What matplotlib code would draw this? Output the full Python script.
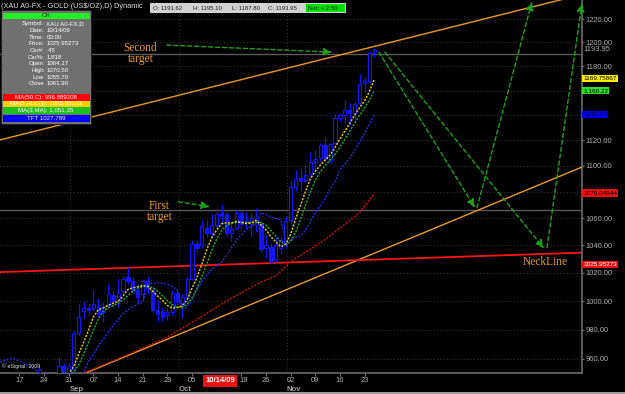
import numpy as np
import pandas as pd
import matplotlib
matplotlib.use('Agg')
import matplotlib.pyplot as plt
import matplotlib.transforms as mtransforms
from matplotlib.patches import Rectangle
from matplotlib.ticker import FixedLocator, NullLocator, FuncFormatter

plt.rcParams['font.family'] = ['Liberation Sans', 'DejaVu Sans']

W, H = 625, 394

# daily bars, bar 0 = Mon Aug 17 2009
bars = list(range(-4, 73))
opens = [944, 946, 947, 941, 938, 937, 941, 944, 945, 949, 945, 942, 948, 955, 949,
         953, 978, 993, 995, 995, 996, 992, 997, 1004, 1001, 1007, 1017, 1014, 1008, 1005,
         1014, 1008, 994, 992, 990, 992, 1006, 998, 1003, 1016, 1041, 1040, 1053, 1049, 1055,
         1064.17, 1063, 1049, 1053, 1064, 1057, 1056, 1055, 1056, 1038, 1039, 1030, 1038, 1041,
         1059, 1084, 1091, 1089, 1094, 1103, 1106, 1116, 1104, 1118, 1138, 1140, 1144, 1142,
         1150, 1166, 1168, 1191.62]
highs = [949, 949.5, 949, 945, 943, 944, 946, 948, 955.5, 950.5, 949, 950, 961, 957, 957,
         979, 998, 999, 998.5, 1008, 1002, 999, 1012, 1008, 1016, 1018, 1024, 1017, 1012, 1016,
         1018, 1011, 1001, 996, 995, 1008, 1008, 1005, 1017, 1044, 1044, 1059, 1059, 1063, 1068,
         1070.50, 1065, 1057, 1066, 1066, 1065, 1064, 1068, 1059, 1048, 1042, 1046, 1047, 1062,
         1089, 1097, 1098, 1101, 1111, 1112, 1118, 1123, 1118, 1141, 1142, 1152, 1150, 1151,
         1174, 1171, 1192.5, 1195.10]
lows = [940, 942, 939, 936, 933, 934, 938, 940, 944, 943, 939, 940, 947, 949, 946,
        951, 976, 988, 990, 993, 989, 985, 995, 996, 996, 1005, 1012, 1006, 999.5, 1001,
        1005, 992, 986, 986, 987, 990, 997, 988, 1000, 1015, 1035, 1038, 1046, 1046, 1053,
        1055.70, 1047, 1043, 1051, 1051, 1052, 1046, 1050, 1035, 1031, 1027, 1028, 1034, 1038,
        1056, 1081, 1081, 1087, 1092, 1097, 1104, 1102, 1102, 1117, 1135, 1134, 1132, 1134,
        1148, 1159, 1166, 1187.80]
closes = [946, 947, 941, 938, 937, 941, 944, 945, 953, 945, 942, 948, 955, 952, 955,
          977, 989, 995, 994, 998, 991, 996, 1005, 1000, 1006, 1016, 1014, 1007, 1003, 1014,
          1009, 994, 991, 989, 992, 1006, 999, 1003, 1016, 1041, 1038, 1054, 1049, 1055, 1063,
          1061.90, 1049, 1052, 1064, 1056, 1058, 1060, 1060, 1037, 1040, 1028, 1040, 1044, 1058,
          1084, 1090, 1088, 1093, 1103, 1105, 1116, 1105, 1117, 1138, 1140, 1144, 1142, 1149,
          1165, 1168, 1191.45, 1193.95]

# TFT line, one value per bar
tft = [958, 959, 960, 960, 958.5, 957, 955, 953, 951, 946, 944, 943, 943, 944, 945,
       946, 948, 950.5, 958.6, 963, 969, 973.5, 978, 983, 987, 991, 993.5, 996, 998, 999,
       1012, 1012.5, 1013, 1012.5, 1012, 1010, 1008, 994, 996, 1001, 1008, 1014, 1019, 1022.5,
       1025.4, 1027.8, 1033, 1038.4, 1044, 1048, 1051.6, 1054, 1056, 1064, 1063, 1061, 1060,
       1059, 1043, 1044, 1046, 1047, 1051, 1058, 1064, 1069.5, 1075, 1081.6, 1088, 1097,
       1101.5, 1106, 1112, 1118.7, 1125.6, 1133, 1140.56]

# MA(50) read at a few bars
ma50_bars = [10, 13, 20, 30, 36, 43, 49, 52, 55, 62, 69, 72]
ma50_vals = [946.4, 950.5, 960, 974.9, 987.2, 1002, 1013.6, 1017.9, 1028.2, 1044.3, 1064.4, 1079.05]

# "12" sits under the cursor date box, so it is not shown
week_bars = [0, 5, 10, 15, 20, 25, 30, 35, 45, 50, 55, 60, 65, 70]
week_labels = ['17', '24', '31', '07', '14', '21', '28', '05', '19', '26', '02', '09', '16', '23']
months = [('Sep', 11), ('Oct', 33), ('Nov', 55)]
month_grid = [10.3, 32.3, 54.3]
cursor_bar = 41

price_ticks = [960, 980, 1000, 1020, 1040, 1060, 1100, 1120, 1180, 1200, 1220]
grid_levels = list(range(960, 1221, 20))

# value boxes on the price axis
axis_boxes = [(1169.75867, '1169.75867', '#ffee00', 'black'),
              (1160.22, '1,160.22', '#33dd33', 'black'),
              (1140.56, '1140.56', '#0000ee', '#000044'),
              (1079.04944, '1079.04944', '#ee1111', 'black'),
              (1025.95273, '1025.95273', '#ee1111', 'white')]

# drawn trend lines (bar, price)
upper_channel = [(-3.96, 1120.3), (114.1, 1241.3)]
lower_channel = [(10.0, 945.8), (114.1, 1099.1)]
neckline = [(-3.96, 1020.6), (114.1, 1034.7)]
target_levels = [1190, 1066]
arrows = [((29.9, 1197.8), (63.4, 1191.9)),
          ((32.2, 1072.5), (38.6, 1068.8)),
          ((72.9, 1191.9), (92.4, 1067.9)),
          ((74.1, 1191.9), (106.4, 1037.7)),
          ((92.8, 1067.9), (103.95, 1235.0)),
          ((107.0, 1038.4), (114.1, 1234.0))]

info_labels = ['Symbol:', 'Date:', 'Time:', 'Price:', 'Csr#:', 'Csr%:', 'Open', 'High', 'Low', 'Close']
info_values = ['XAU A0-FX,D', '10/14/09', '00:00', '1025.95273', '-45', '1.818',
               '1064.17', '1070.50', '1055.70', '1061.90']
info_bands = [('MA(50,C): 996.889208', '#ff0000'), ('MA(5,HLC/3): 1055.85133', '#ffd000'),
              ('MA(3,MA): 1,051.35', '#20c020'), ('TFT 1027.789', '#0000ff')]

BLUE = '#1414ff'
GREEN = '#1ea01e'
ORANGE = '#eb9a2a'
GREY = '#b0b0b0'


def fx(px):
    return px / W


def fy(py):
    return 1 - py / H


def frect(x0, y0, x1, y1, color, ec='none', z=10):
    r = Rectangle((fx(x0), fy(y1)), (x1 - x0) / W, (y1 - y0) / H, transform=fig.transFigure,
                  facecolor=color, edgecolor=ec, lw=0.6, zorder=z)
    fig.add_artist(r)


fig = plt.figure(figsize=(W / 100, H / 100), dpi=100, facecolor='black')
ax = fig.add_axes([0, 21 / H, 582 / W, 373 / H], facecolor='black')
ax.set_yscale('log')
ax.set_xlim(-3.955, 114.1)
ax.set_ylim(950.5, 1236.5)

for p in grid_levels:
    ax.axhline(p, color='#4a4a4a', lw=0.6, ls=(0, (1, 3)), zorder=1)
for g in month_grid:
    ax.axvline(g, color='#4a4a4a', lw=0.6, ls=(0, (1, 3)), zorder=1)

for lv in target_levels:
    ax.axhline(lv, color='#5a5a5a', lw=1.0, zorder=2)

x = np.array(bars)
o = np.array(opens, float)
hi = np.array(highs, float)
lo = np.array(lows, float)
c = np.array(closes, float)
up = c >= o
blo = np.minimum(o, c)
bhi = np.maximum(o, c)
bh = np.maximum(bhi - blo, 0.3)

ax.vlines(x, lo, hi, color=BLUE, lw=0.9, zorder=4)
ax.bar(x[up], bh[up], bottom=blo[up], width=0.64, facecolor='black', edgecolor=BLUE, lw=0.8, zorder=5)
ax.bar(x[~up], bh[~up], bottom=blo[~up], width=0.64, facecolor=BLUE, edgecolor=BLUE, lw=0.8, zorder=5)

hlc3 = pd.Series((hi + lo + c) / 3)
ma5 = hlc3.rolling(5).mean()
ma3 = ma5.rolling(3).mean()

ax.plot(ma50_bars, ma50_vals, color='#c81010', lw=1, ls=(0, (1.5, 1)), zorder=6)
ax.plot(x, tft, color='#2a2ae0', lw=1, ls=(0, (1.5, 1)), zorder=6)
ax.plot(x, ma3, color='#22b022', lw=1, ls=(0, (1.5, 1)), zorder=6)
ax.plot(x, ma5, color='#f0d400', lw=1, ls=(0, (1.5, 1)), zorder=6)

for line in (upper_channel, lower_channel):
    ax.plot([line[0][0], line[1][0]], [line[0][1], line[1][1]], color=ORANGE, lw=1, zorder=3)
ax.plot([neckline[0][0], neckline[1][0]], [neckline[0][1], neckline[1][1]], color='#ff1414', lw=1.3, zorder=3)

for (p0, p1) in arrows:
    ax.annotate('', xy=p1, xytext=p0, annotation_clip=False,
                arrowprops=dict(arrowstyle='-|>,head_length=0.5,head_width=0.22', color=GREEN,
                                lw=1, linestyle=(0, (3, 2)), shrinkA=0, shrinkB=0), zorder=7)

# axes styling
for s in ('top', 'left'):
    ax.spines[s].set_visible(False)
for s in ('right', 'bottom'):
    ax.spines[s].set_color('#6a6a6a')
    ax.spines[s].set_linewidth(1.2)

ax.yaxis.tick_right()
ax.yaxis.set_major_locator(FixedLocator(price_ticks))
ax.yaxis.set_minor_locator(NullLocator())
ax.yaxis.set_major_formatter(FuncFormatter(lambda v, _: f'{v:.2f}'))
ax.tick_params(axis='y', colors='#707070', labelcolor=GREY, labelsize=5.4, length=1.5, pad=0.8)

ax.set_xticks(week_bars)
ax.tick_params(axis='x', colors='#707070', length=2, labelbottom=False)
bt = mtransforms.blended_transform_factory(ax.transData, ax.transAxes)
for k, lab in zip(week_bars, week_labels):
    ax.text(k + (0.4 if lab == '19' else 0), -8 / 373, lab, transform=bt, ha='center', va='center',
            fontsize=5.4, color=GREY, clip_on=False)
for m, k in months:
    ax.text(k + 0.6, -16.5 / 373, m, transform=bt, ha='center', va='center', fontsize=5.6,
            fontweight='bold', color='#a0a0a0', clip_on=False)
ax.text(cursor_bar - 0.3, -8 / 373, '10/14/09', transform=bt, ha='center', va='center', fontsize=5.6,
        fontweight='bold', color='white', clip_on=False, zorder=9,
        bbox=dict(boxstyle='square,pad=0.28', fc='#ee1111', ec='none'))

rt = mtransforms.blended_transform_factory(ax.transAxes, ax.transData)
ax.text(1 + 1.2 / 582, closes[-1], f'{closes[-1]:.2f}', transform=rt, ha='left', va='center',
        fontsize=5.4, color=GREY, clip_on=False)
for val, lab, bg, fg in axis_boxes:
    ax.text(1 + 1.2 / 582, val, lab, transform=rt, ha='left', va='center', fontsize=4.6,
            color=fg, clip_on=False, zorder=9,
            bbox=dict(boxstyle='square,pad=0.18', fc=bg, ec='none'))

# chart notes
serif = ['Liberation Serif', 'DejaVu Serif']
fig.text(fx(140.5), fy(53.5), 'Second\ntarget', ha='center', va='center', fontsize=8.3,
         family=serif, color=ORANGE, linespacing=0.95)
fig.text(fx(159.5), fy(211.5), 'First\ntarget', ha='center', va='center', fontsize=8.3,
         family=serif, color=ORANGE, linespacing=0.95)
fig.text(fx(545), fy(262), 'NeckLine', ha='center', va='center', fontsize=8.3,
         family=serif, color=ORANGE)

# title and OHLC strip
fig.text(fx(1), fy(6), '(XAU A0-FX - GOLD (US$/OZ),D) Dynamic', ha='left', va='center',
         fontsize=5.3, color='#dcdcdc', zorder=8)
frect(150, 3.5, 346, 12.5, '#d2d2d2', z=10)
frect(306, 4, 345, 12, '#00e000', z=11)
ohlc_txt = [(153, f'O: {opens[-1]:.2f}'), (193, f'H: {highs[-1]:.2f}'),
            (232, f'L: {lows[-1]:.2f}'), (268, f'C: {closes[-1]:.2f}'), (308.5, 'Net: + 2.50')]
for px, t in ohlc_txt:
    fig.text(fx(px), fy(8), t, ha='left', va='center', fontsize=4.3, color='#202020', zorder=12)

# cursor info window
frect(1, 10, 91, 123.5, '#707070', ec='#202020', z=10)
frect(2.5, 12.5, 89.5, 19, '#22ee22', z=11)
fig.text(fx(46), fy(15.8), 'OK', ha='center', va='center', fontsize=4.6, color='#103010', zorder=12)
for i, (lab, val) in enumerate(zip(info_labels, info_values)):
    yy = 24 + i * 6.64
    fig.text(fx(44), fy(yy), lab, ha='right', va='center', fontsize=4.4, color='white', zorder=12)
    fig.text(fx(46.5), fy(yy), val, ha='left', va='center', fontsize=4.4, color='white', zorder=12)
band_y = [(94.3, 100.5), (100.7, 107), (107.3, 113.5), (114.7, 122)]
for (t, col), (y0, y1) in zip(info_bands, band_y):
    frect(2.5, y0, 89.5, y1, col, z=11)
    fig.text(fx(46), fy((y0 + y1) / 2), t, ha='center', va='center', fontsize=4.4,
             color='white', zorder=12)

fig.text(fx(2), fy(366), '\u00a9 eSignal, 2009', ha='left', va='center', fontsize=3.8,
         color='#e0e0e0', zorder=8)
fig.add_artist(plt.Line2D([0, 1], [fy(393), fy(393)], transform=fig.transFigure,
                          color='#bcbcbc', lw=1.2))

fig.savefig('out.png', dpi=100, facecolor='black')
